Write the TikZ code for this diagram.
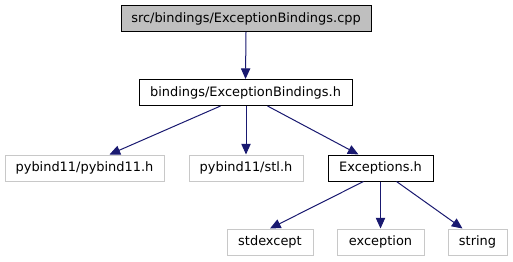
\documentclass[tikz,border=0pt]{standalone}
\usepackage{fontspec}
\setmainfont{DejaVu Sans}
\usetikzlibrary{arrows.meta}
\definecolor{edgeblue}{HTML}{191970}
\definecolor{boxgray}{HTML}{BFBFBF}
\definecolor{lightedge}{HTML}{C8C8C8}
\tikzset{
  box/.style={draw=black, line width=0.75pt, inner sep=0pt, minimum height=26*0.75pt,
    font=\fontsize{9.7pt}{11.6pt}\selectfont},
  rootbox/.style={box, fill=boxgray},
  extbox/.style={box, draw=lightedge},
  dep/.style={draw=edgeblue, line width=0.75pt, -{Triangle[length=8pt,width=7pt]}}
}
\begin{document}
\begin{tikzpicture}[x=0.75pt,y=-0.75pt]
\useasboundingbox (0,0) rectangle (513,261);
% files of the project
\node[rootbox, minimum width=250*0.75pt] (cpp) at (246,18.5) {src/bindings/ExceptionBindings.cpp};
\node[box, minimum width=213*0.75pt] (hdr) at (245.5,92.5) {bindings/ExceptionBindings.h};
\node[extbox, minimum width=159*0.75pt] (pyb) at (84.5,168) {pybind11/pybind11.h};
\node[extbox, minimum width=114*0.75pt] (stl) at (246,168) {pybind11/stl.h};
\node[box, minimum width=105*0.75pt] (exc) at (380.5,168) {Exceptions.h};
\node[extbox, minimum width=86*0.75pt] (stdexc) at (270,242) {stdexcept};
\node[extbox, minimum width=87*0.75pt] (excp) at (380.5,242) {exception};
\node[extbox, minimum width=59*0.75pt] (str) at (477.5,242) {string};
% include relations
\draw[dep] (cpp.south) -- (hdr.north);
\draw[dep] ([xshift=-25*0.75pt]hdr.south) -- ([xshift=25*0.75pt]pyb.north);
\draw[dep] ([xshift=0.5*0.75pt]hdr.south) -- (stl.north);
\draw[dep] ([xshift=22*0.75pt]hdr.south) -- ([xshift=-22*0.75pt]exc.north);
\draw[dep] ([xshift=-17*0.75pt]exc.south) -- (stdexc.north);
\draw[dep] (exc.south) -- (excp.north);
\draw[dep] ([xshift=16*0.75pt]exc.south) -- ([xshift=-15*0.75pt]str.north);
\end{tikzpicture}
\end{document}
